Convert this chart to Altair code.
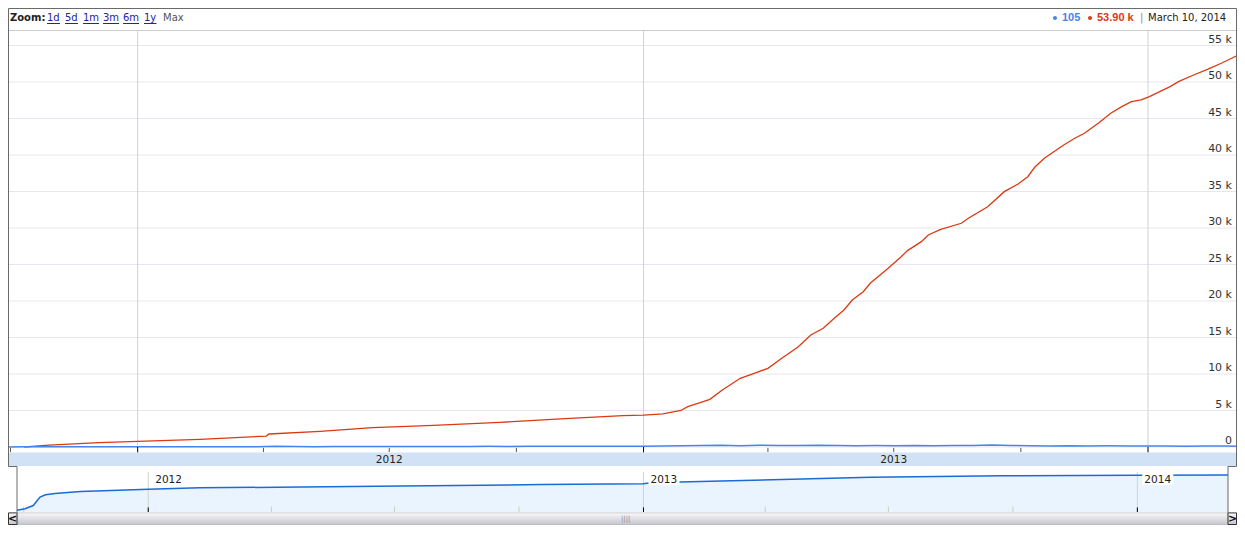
import altair as alt
import pandas as pd

# ---------------- data ----------------
red_dates = ["2011-10-11", "2011-10-29", "2011-12-04", "2012-01-01", "2012-02-15", "2012-04-03",
             "2012-04-05", "2012-05-12", "2012-06-19", "2012-08-02", "2012-09-19", "2012-11-02",
             "2012-12-17", "2013-01-01", "2013-01-15", "2013-01-28", "2013-02-02", "2013-02-11",
             "2013-02-18", "2013-02-27", "2013-03-12", "2013-03-22", "2013-04-01", "2013-04-10",
             "2013-04-23", "2013-05-02", "2013-05-11", "2013-05-19", "2013-05-26", "2013-06-01",
             "2013-06-09", "2013-06-14", "2013-06-27", "2013-07-06", "2013-07-11", "2013-07-21",
             "2013-07-26", "2013-08-04", "2013-08-19", "2013-08-24", "2013-09-07", "2013-09-19",
             "2013-09-29", "2013-10-06", "2013-10-11", "2013-10-18", "2013-11-01", "2013-11-09",
             "2013-11-16", "2013-11-26", "2013-12-05", "2013-12-13", "2013-12-20", "2013-12-27",
             "2014-01-02", "2014-01-08", "2014-01-17", "2014-01-23", "2014-02-03", "2014-02-13",
             "2014-02-23", "2014-03-04", "2014-03-10"]
red_values = [0, 250, 590, 780, 1050, 1500, 1780, 2150, 2650, 2970,
              3380, 3850, 4300, 4380, 4550, 5000, 5520, 6070, 6530, 7810,
              9410, 10100, 10780, 12010, 13740, 15340, 16260, 17630, 18770, 20140,
              21280, 22430, 24480, 25990, 26900, 28130, 29050, 29820, 30650, 31330,
              32920, 34980, 36030, 37030, 38320, 39550, 41370, 42290, 42980, 44350,
              45720, 46620, 47310, 47540, 47990, 48540, 49360, 50050, 50960, 51740,
              52570, 53390, 53900]

blue_dates = [d.strftime("%Y-%m-%d") for d in pd.date_range("2011-09-27", periods=65, freq="14D")]
blue_values = [0, 30, 45, 25, 35, 20, 30,
               40, 35, 30, 45, 40, 50, 45, 90, 55, 50, 60, 55, 65,
               60, 70, 75, 80, 70, 90, 85, 95, 100, 90, 110, 95, 100,
               110, 140, 170, 200, 230, 180, 240, 210, 190, 230, 210, 180, 200, 170,
               210, 160, 190, 220, 260, 200, 170, 150, 180, 140, 160, 130, 120,
               140, 110, 130, 120, 105]

nav_dates = ["2011-09-26", "2011-10-02", "2011-10-08", "2011-10-13", "2011-10-17", "2011-10-24",
             "2011-11-12", "2012-01-01", "2012-02-08", "2012-04-23", "2012-07-06", "2012-10-17",
             "2013-01-01", "2013-01-06", "2013-02-12", "2013-05-12", "2013-06-18", "2013-09-23",
             "2014-01-01", "2014-03-09"]
nav_values = [4, 7, 14, 32, 37, 40, 44, 49, 52, 54, 56, 59, 61, 63, 66, 72, 75, 78, 79, 80]

y_ticks = [0, 5000, 10000, 15000, 20000, 25000, 30000, 35000, 40000, 45000, 50000, 55000]
y_tick_labels = ["0", "5 k", "10 k", "15 k", "20 k", "25 k", "30 k", "35 k", "40 k", "45 k", "50 k", "55 k"]

year_starts = ["2012-01-01", "2013-01-01", "2014-01-01"]
year_labels = ["2012", "2013", "2014"]
main_quarters = ["2011-10-01", "2012-04-01", "2012-07-01", "2012-10-01", "2013-04-01", "2013-07-01", "2013-10-01"]
nav_quarters = ["2011-10-01", "2012-04-01", "2012-07-01", "2012-10-01", "2013-04-01", "2013-07-01", "2013-10-01"]
band_label_dates = ["2012-07-01", "2013-07-01"]
band_labels = ["2012", "2013"]

zoom_links = ["1d", "5d", "1m", "3m", "6m", "1y"]
legend_blue = "105"
legend_red = "53.90 k"
legend_date = "March 10, 2014"

# ---------------- layout helpers ----------------
W, H = 1229, 517
FONT = "DejaVu Sans"
KB = (H - 439) / 84.0            # bottom strip squeeze (band, navigator, scrollbar)


def px(rx):
    return round(rx - 8, 1)


def py(ry):
    if ry <= 447:
        return round(ry - 8, 1)
    return round(439 + (ry - 447) * KB, 1)


def fx(rx):
    return min(W - 0.5, max(0.5, px(rx)))


def fy(ry):
    return min(H - 0.5, max(0.5, py(ry)))


one = pd.DataFrame({"k": [0]})


def box(x1, x2, y1, y2, **kw):
    return alt.Chart(one).mark_rect(**kw).encode(
        x=alt.value(fx(x1)), x2=alt.value(fx(x2)), y=alt.value(fy(y1)), y2=alt.value(fy(y2)))


def hline(x1, x2, y, color, w=1.0):
    return alt.Chart(one).mark_rule(color=color, strokeWidth=w).encode(
        x=alt.value(fx(x1)), x2=alt.value(fx(x2)), y=alt.value(fy(y)))


def vline(x, y1, y2, color, w=1.0):
    return alt.Chart(one).mark_rule(color=color, strokeWidth=w).encode(
        x=alt.value(fx(x)), y=alt.value(fy(y1)), y2=alt.value(fy(y2)))


def label(txt, x, y, **kw):
    kw.setdefault("font", FONT)
    kw.setdefault("align", "left")
    kw.setdefault("baseline", "middle")
    return alt.Chart(one).mark_text(text=txt, **kw).encode(x=alt.value(fx(x)), y=alt.value(fy(y)))


def dt(y, m, d):
    return alt.DateTime(year=y, month=m, date=d, utc=True)


x_main = alt.Scale(domain=[dt(2011, 9, 27), dt(2014, 3, 10)], range=[px(5), px(1242)])
y_main = alt.Scale(domain=[0, 55000], range=[py(447), py(45.5)])
x_nav = alt.Scale(domain=[dt(2011, 9, 26), dt(2014, 3, 9)], range=[px(17), px(1228)])
y_nav = alt.Scale(domain=[0, 100], range=[py(517), py(467)])

red_df = pd.DataFrame({"d": red_dates, "v": red_values})
blue_df = pd.DataFrame({"d": blue_dates, "v": blue_values})
nav_df = pd.DataFrame({"d": nav_dates, "v": nav_values})
ytick_df = pd.DataFrame({"v": y_ticks, "lab": y_tick_labels})
year_df = pd.DataFrame({"d": year_starts, "lab": year_labels})
mq_df = pd.DataFrame({"d": main_quarters})
nq_df = pd.DataFrame({"d": nav_quarters})
band_df = pd.DataFrame({"d": band_label_dates, "lab": band_labels})

FRAME = "#6a6a6a"
layers = []

# ---------------- main plot ----------------
layers.append(alt.Chart(ytick_df).mark_rule(color="#e6e6f0").encode(
    y=alt.Y("v:Q", scale=y_main, axis=None), x=alt.value(fx(5)), x2=alt.value(W - 0.5)))
layers.append(alt.Chart(year_df).mark_rule(color="#d2d2d2").encode(
    x=alt.X("d:T", scale=x_main, axis=None), y=alt.value(fy(30.5)), y2=alt.value(fy(447))))
layers.append(alt.Chart(ytick_df).mark_text(font=FONT, fontSize=11, align="right", baseline="alphabetic",
                                            dy=-3, color="#333").encode(
    y=alt.Y("v:Q", scale=y_main, axis=None), text="lab:N", x=alt.value(W - 5)))
layers.append(alt.Chart(red_df).mark_line(color="#dc3912", strokeWidth=1.3, clip=True).encode(
    x=alt.X("d:T", scale=x_main, axis=None), y=alt.Y("v:Q", scale=y_main, axis=None)))
layers.append(alt.Chart(blue_df).mark_line(color="#4684ee", strokeWidth=1.5, clip=True).encode(
    x=alt.X("d:T", scale=x_main, axis=None), y=alt.Y("v:Q", scale=y_main, axis=None)))

# tick row and band
layers.append(alt.Chart(mq_df).mark_rule(color="#555").encode(
    x=alt.X("d:T", scale=x_main, axis=None), y=alt.value(fy(448)), y2=alt.value(fy(452.5))))
layers.append(alt.Chart(year_df).mark_rule(color="#000").encode(
    x=alt.X("d:T", scale=x_main, axis=None), y=alt.value(fy(447)), y2=alt.value(fy(453))))
layers.append(box(5, 1242, 453, 467.5, color="#d2e2f6"))
layers.append(alt.Chart(band_df).mark_text(font=FONT, fontSize=10.5, color="#222", baseline="middle").encode(
    x=alt.X("d:T", scale=x_main, axis=None), text="lab:N", y=alt.value(fy(460.5))))

# ---------------- navigator ----------------
layers.append(alt.Chart(nav_df).mark_area(color="#eaf4fe", opacity=1).encode(
    x=alt.X("d:T", scale=x_nav, axis=None), y=alt.Y("v:Q", scale=y_nav, axis=None)))
layers.append(alt.Chart(year_df).mark_rule(color="#cbd5cb").encode(
    x=alt.X("d:T", scale=x_nav, axis=None), y=alt.value(fy(474)), y2=alt.value(fy(517))))
layers.append(alt.Chart(nq_df).mark_rule(color="#c3d3c3").encode(
    x=alt.X("d:T", scale=x_nav, axis=None), y=alt.value(fy(511)), y2=alt.value(fy(517))))
layers.append(alt.Chart(year_df).mark_rule(color="#000").encode(
    x=alt.X("d:T", scale=x_nav, axis=None), y=alt.value(fy(512)), y2=alt.value(fy(517))))
layers.append(alt.Chart(nav_df).mark_line(color="#1b6bd6", strokeWidth=1.5).encode(
    x=alt.X("d:T", scale=x_nav, axis=None), y=alt.Y("v:Q", scale=y_nav, axis=None)))
layers.append(alt.Chart(year_df).mark_rect(color="white", xOffset=5, x2Offset=36).encode(
    x=alt.X("d:T", scale=x_nav, axis=None), x2="d:T", y=alt.value(fy(476)), y2=alt.value(fy(488))))
layers.append(alt.Chart(year_df).mark_text(font=FONT, fontSize=10.5, color="#222", align="left",
                                           baseline="middle", dx=7).encode(
    x=alt.X("d:T", scale=x_nav, axis=None), text="lab:N", y=alt.value(fy(482))))

# scrollbar
grad = alt.Gradient(gradient="linear",
                    stops=[alt.GradientStop(offset=0, color="#fbfbfc"),
                           alt.GradientStop(offset=0.25, color="#ececf0"),
                           alt.GradientStop(offset=1, color="#c4c4cc")],
                    x1=0, x2=0, y1=0, y2=1)
layers.append(box(17, 1228, 518, 530.5, fill=grad, stroke="#9a9aa2", strokeWidth=0.5))
layers.append(box(4.5, 17, 518, 530.5, fill=grad, stroke="#333", strokeWidth=1))
layers.append(box(1228, 1241.5, 518, 530.5, fill=grad, stroke="#333", strokeWidth=1))
layers.append(label("<", 12.5, 524.5, align="center", fontWeight="bold", fontSize=11, color="#111"))
layers.append(alt.Chart(one).mark_text(text=">", font=FONT, align="center", baseline="middle",
                                       fontWeight="bold", fontSize=11, color="#111").encode(
    x=alt.value(round((px(1228) + W) / 2, 1)), y=alt.value(fy(524.5))))
layers.append(label("||||", 621, 524.5, fontSize=7, color="#8a8a92"))

# ---------------- frame ----------------
layers.append(hline(4, 1242, 4.5, FRAME))
layers.append(hline(5, 1242, 30.5, "#cccccc"))
layers.append(vline(4.5, 4, 468, FRAME))
layers.append(vline(1241.5, 4, 468, FRAME))
layers.append(hline(4, 17, 468, FRAME))
layers.append(vline(17, 468, 518, FRAME))
layers.append(hline(1228, 1242, 468, FRAME))
layers.append(vline(1228, 468, 518, FRAME))

# ---------------- header ----------------
layers.append(label("Zoom:", 10, 18, fontWeight="bold", fontSize=10, color="#222"))
link_x = [47, 65, 83, 103, 123, 144]
link_w = [13, 13, 16, 16, 16, 12.5]
for txt, lx, lw in zip(zoom_links, link_x, link_w):
    layers.append(label(txt, lx, 18, fontSize=10, color="#2222aa"))
    layers.append(hline(lx, lx + lw, 23.5, "#2222aa"))
layers.append(label("Max", 163, 18, fontSize=10, color="#555"))

layers.append(alt.Chart(one).mark_circle(size=16, color="#4684ee", opacity=1).encode(
    x=alt.value(fx(1055)), y=alt.value(fy(18))))
layers.append(label(legend_blue, 1062, 18, font="Liberation Sans", fontWeight="bold", fontSize=11, color="#4684ee"))
layers.append(alt.Chart(one).mark_circle(size=16, color="#dc3912", opacity=1).encode(
    x=alt.value(fx(1090)), y=alt.value(fy(18))))
layers.append(label(legend_red, 1097, 18, font="Liberation Sans", fontWeight="bold", fontSize=11, color="#dc3912"))
layers.append(label("|", 1140, 18, fontSize=10, color="#888"))
layers.append(label(legend_date, 1148, 18, fontSize=10, color="#222"))

chart = alt.layer(*layers).properties(
    width=W, height=H, padding=0, autosize=alt.AutoSizeParams(type="none")
).resolve_scale(x="independent", y="independent").configure_view(stroke=None)

chart.save("out.html", embed_options={"renderer": "svg", "actions": False})
